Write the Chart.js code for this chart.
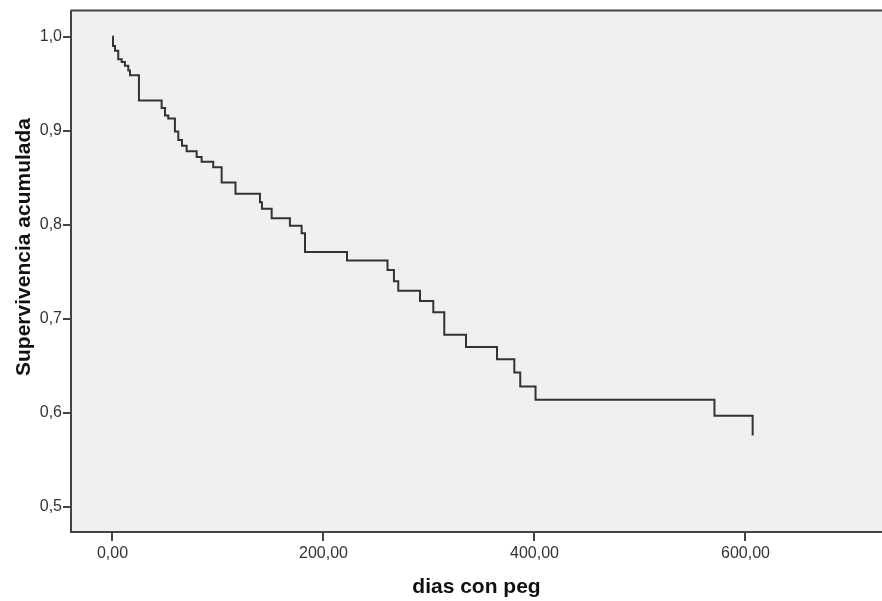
<!DOCTYPE html>
<html>
<head>
<meta charset="utf-8">
<script src="https://cdn.jsdelivr.net/npm/chart.js@4"></script>
<style>
  html, body { margin: 0; padding: 0; background: #ffffff; }
  #wrap { width: 882px; height: 601px; }
</style>
</head>
<body>
<div id="wrap"><canvas id="km"></canvas></div>
<script>
// Kaplan-Meier steps: day of each event and survival after it
const eventDays = [0, 0.5, 2.4, 5.5, 8.7, 11.8, 15.0, 16.6, 25.1, 46.6, 49.8, 52.9, 59.2, 62.4,
  65.9, 70.3, 79.8, 84.5, 95.5, 103.5, 116.6, 139.8, 141.7, 150.9, 168.2, 179.3, 182.5,
  222.3, 260.7, 266.8, 270.9, 291.5, 304.1, 314.5, 335.1, 364.5, 380.9, 386.5, 401.0,
  570.6, 606.8]
const survival = [1.0, 0.990, 0.985, 0.976, 0.973, 0.969, 0.964, 0.959, 0.932, 0.924, 0.916,
  0.913, 0.899, 0.890, 0.884, 0.878, 0.872, 0.867, 0.861, 0.845, 0.833, 0.824, 0.817, 0.807,
  0.799, 0.791, 0.771, 0.762, 0.752, 0.740, 0.730, 0.719, 0.707, 0.683, 0.670, 0.657, 0.643,
  0.628, 0.614, 0.597, 0.576]
const xTickValues = [0, 200, 400, 600]
const yTickValues = [0.5, 0.6, 0.7, 0.8, 0.9, 1.0]
const yTitle = 'Supervivencia acumulada'

const axisColor = '#444444'
const textColor = '#333333'

const plotBackground = {
  id: 'plotBackground',
  beforeDraw(chart) {
    const {ctx, chartArea: a} = chart
    ctx.save()
    ctx.fillStyle = '#f0f0f0'
    ctx.fillRect(a.left, a.top, a.right - a.left, a.bottom - a.top)
    ctx.restore()
  },
  afterDraw(chart) {
    const {ctx, chartArea: a} = chart
    ctx.save()
    ctx.strokeStyle = axisColor
    ctx.lineWidth = 2
    ctx.beginPath()
    ctx.moveTo(a.left, a.top)
    ctx.lineTo(a.right, a.top)
    ctx.stroke()

    // y title sits a bit above the middle of the plot, as in SPSS output
    ctx.translate(24, 247)
    ctx.rotate(-Math.PI / 2)
    ctx.fillStyle = '#111111'
    ctx.font = 'bold 21px "Liberation Sans"'
    ctx.textAlign = 'center'
    ctx.textBaseline = 'middle'
    ctx.fillText(yTitle, 0, 0)
    ctx.restore()
  }
}

const points = eventDays.map((d, i) => ({x: d, y: survival[i]}))

new Chart(document.getElementById('km').getContext('2d'), {
  type: 'line',
  data: {
    datasets: [{
      data: points,
      stepped: 'before',
      borderColor: '#333333',
      borderWidth: 2,
      pointRadius: 0,
      fill: false,
    }],
  },
  options: {
    responsive: true,
    maintainAspectRatio: false,
    animation: false,
    layout: {padding: {top: 10, right: 0, left: 0, bottom: 0}},
    plugins: {legend: {display: false}, tooltip: {enabled: false}},
    scales: {
      x: {
        type: 'linear',
        min: -39.3,
        max: 729.4,
        afterBuildTicks: scale => { scale.ticks = xTickValues.map(v => ({value: v})) },
        afterFit: scale => { scale.height = 69 },
        grid: {display: true, drawOnChartArea: false, drawTicks: true, tickLength: 9, color: axisColor, lineWidth: 2},
        border: {display: true, color: axisColor, width: 2},
        ticks: {
          color: textColor,
          padding: 3,
          font: {family: 'Liberation Sans', size: 16},
          callback: v => v.toFixed(2).replace('.', ','),
        },
        title: {
          display: true,
          text: 'dias con peg',
          color: '#111111',
          font: {family: 'Liberation Sans', size: 21, weight: 'bold'},
          padding: {top: 4, bottom: 1},
        },
      },
      y: {
        min: 0.4735,
        max: 1.0276,
        afterBuildTicks: scale => { scale.ticks = yTickValues.map(v => ({value: v})) },
        afterFit: scale => { scale.width = 71 },
        grid: {display: true, drawOnChartArea: false, drawTicks: true, tickLength: 8, color: axisColor, lineWidth: 2},
        border: {display: true, color: axisColor, width: 2},
        ticks: {
          color: textColor,
          padding: 1,
          font: {family: 'Liberation Sans', size: 16},
          callback: v => v.toFixed(1).replace('.', ','),
        },
        title: {display: false},
      },
    },
  },
  plugins: [plotBackground],
})
</script>
</body>
</html>
